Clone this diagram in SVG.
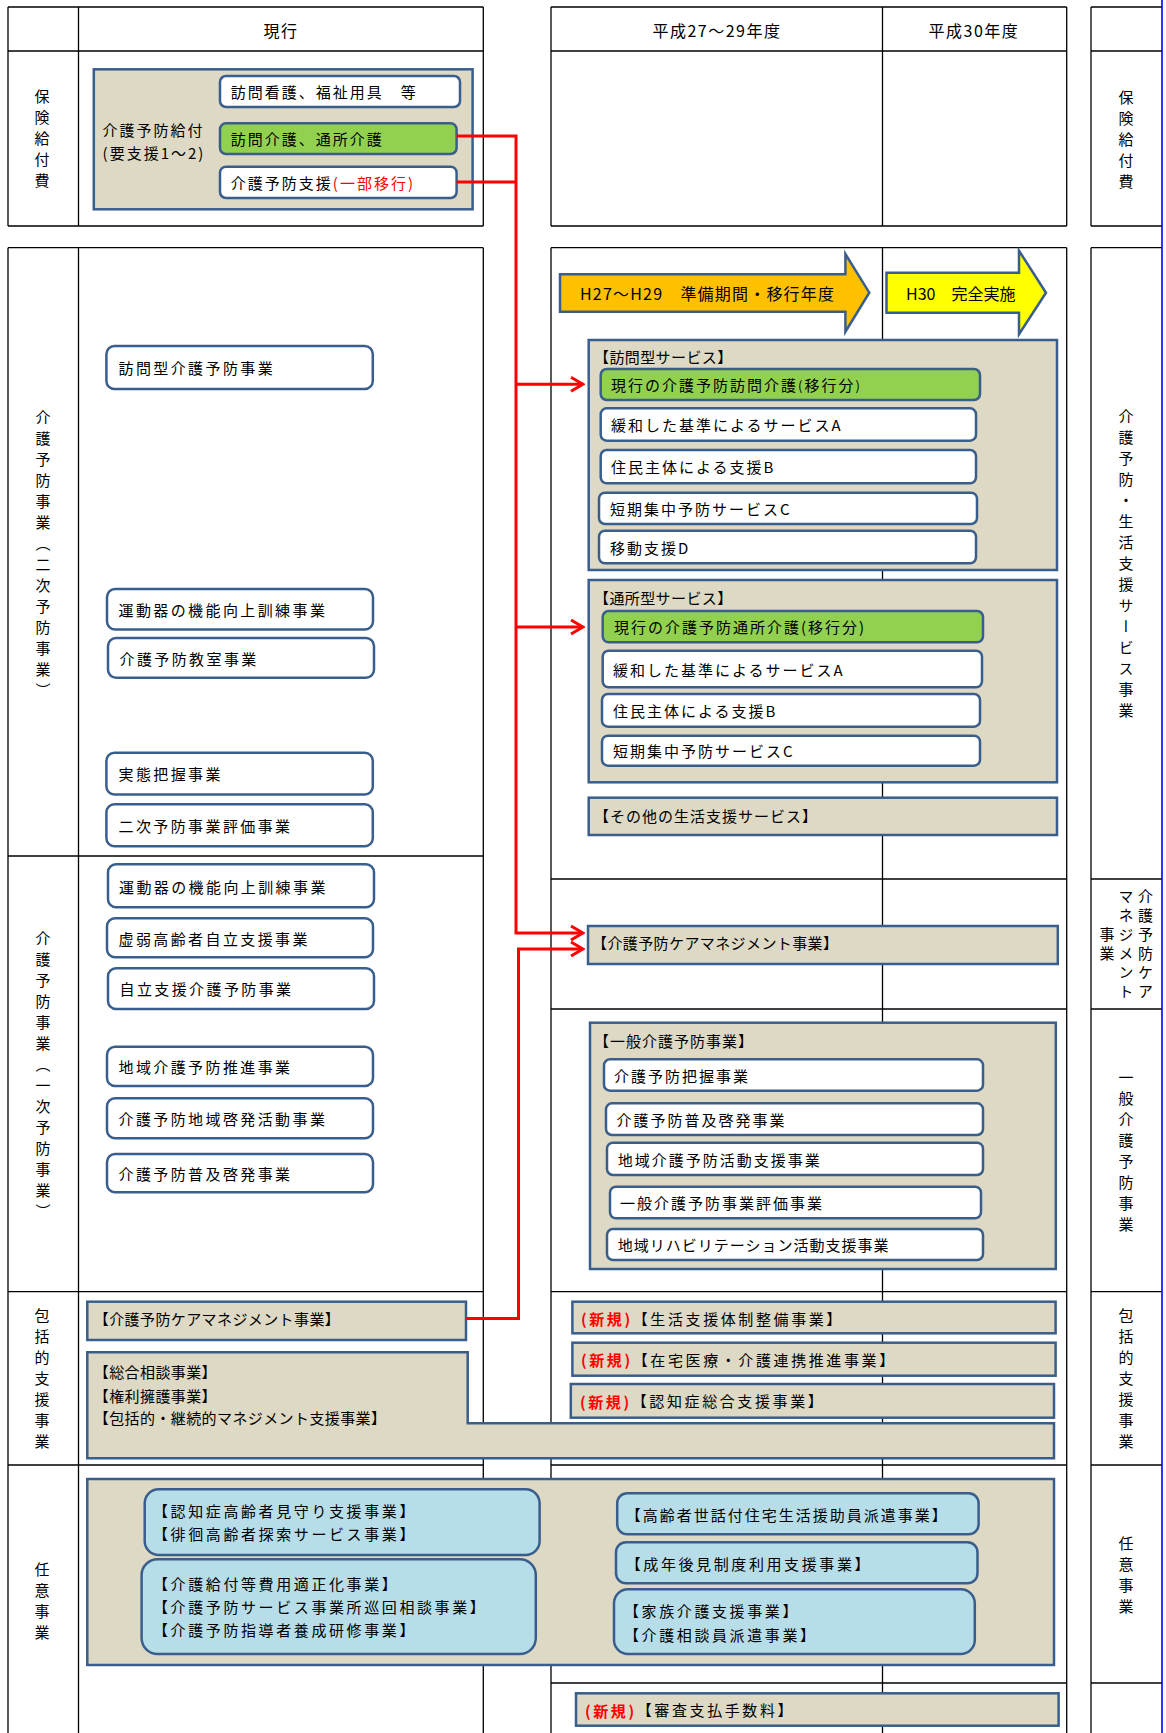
<svg xmlns="http://www.w3.org/2000/svg" width="1166" height="1733" viewBox="0 0 1166 1733">
<defs>
<style>
text{font-family:"Noto Sans CJK JP","Noto Sans CJK SC",sans-serif;font-size:15px;fill:#000;dominant-baseline:central}
.hd{font-size:16px;letter-spacing:1.5px;text-anchor:middle}
.v{writing-mode:vertical-rl;text-anchor:middle;letter-spacing:6px}
.vk{writing-mode:vertical-rl;text-anchor:middle;letter-spacing:4px}
.grid line{stroke:#000;stroke-width:1.3}
.c{fill:#ddd9c4;stroke:#3a5e8c;stroke-width:2.5}
.w{fill:#fff;stroke:#3a5e8c;stroke-width:2.5}
.g{fill:#92d050;stroke:#3a5e8c;stroke-width:2.5}
.b{fill:#b7dde8;stroke:#3a5e8c;stroke-width:2.5}
.ao{fill:#ffc000;stroke:#3a5e8c;stroke-width:2.5}
.ay{fill:#ffff00;stroke:#3a5e8c;stroke-width:2.5}
.l0{letter-spacing:0.4px}
.l1{letter-spacing:1px}
.l2{letter-spacing:2px}
.l24{letter-spacing:2.4px}
.l25{letter-spacing:2.6px}
.red{fill:#f00}
.nb{fill:#f00;font-weight:bold}
.conn path{fill:none;stroke:#f00;stroke-width:3}
</style>
<marker id="ah" markerUnits="userSpaceOnUse" markerWidth="16" markerHeight="18" viewBox="0 0 16 18" refX="14" refY="9" orient="auto">
<path d="M2,2 L14,9 L2,16" fill="none" stroke="#f00" stroke-width="3"/>
</marker>
</defs>
<rect x="0" y="0" width="1166" height="1733" fill="#fff"/>

<g class="grid">
<!-- left table -->
<line x1="8" y1="7" x2="483.3" y2="7"/>
<line x1="8" y1="51" x2="483.3" y2="51"/>
<line x1="8" y1="226" x2="483.3" y2="226"/>
<line x1="8" y1="7" x2="8" y2="226"/>
<line x1="78.5" y1="7" x2="78.5" y2="226"/>
<line x1="483.3" y1="7" x2="483.3" y2="226"/>
<line x1="8" y1="247.7" x2="483.3" y2="247.7"/>
<line x1="8" y1="247.7" x2="8" y2="1733"/>
<line x1="78.5" y1="247.7" x2="78.5" y2="1733"/>
<line x1="483.3" y1="247.7" x2="483.3" y2="1733"/>
<line x1="8" y1="856" x2="483.3" y2="856"/>
<line x1="8" y1="1291.7" x2="483.3" y2="1291.7"/>
<line x1="8" y1="1465" x2="483.3" y2="1465"/>
<!-- middle table -->
<line x1="551" y1="7" x2="1066.7" y2="7"/>
<line x1="551" y1="51" x2="1066.7" y2="51"/>
<line x1="551" y1="226" x2="1066.7" y2="226"/>
<line x1="551" y1="7" x2="551" y2="226"/>
<line x1="882.5" y1="7" x2="882.5" y2="226"/>
<line x1="1066.7" y1="7" x2="1066.7" y2="226"/>
<line x1="551" y1="247.7" x2="1066.7" y2="247.7"/>
<line x1="551" y1="247.7" x2="551" y2="1733"/>
<line x1="882.5" y1="247.7" x2="882.5" y2="1733"/>
<line x1="1066.7" y1="247.7" x2="1066.7" y2="1733"/>
<line x1="551" y1="879" x2="1066.7" y2="879"/>
<line x1="551" y1="1009" x2="1066.7" y2="1009"/>
<line x1="551" y1="1291.7" x2="1066.7" y2="1291.7"/>
<line x1="551" y1="1465" x2="1066.7" y2="1465"/>
<line x1="551" y1="1683" x2="1066.7" y2="1683"/>
<!-- right table -->
<line x1="1091" y1="7" x2="1162" y2="7"/>
<line x1="1091" y1="51" x2="1162" y2="51"/>
<line x1="1091" y1="226" x2="1162" y2="226"/>
<line x1="1091" y1="7" x2="1091" y2="226"/>
<line x1="1091" y1="247.7" x2="1162" y2="247.7"/>
<line x1="1091" y1="247.7" x2="1091" y2="1733"/>
<line x1="1091" y1="879" x2="1162" y2="879"/>
<line x1="1091" y1="1009" x2="1162" y2="1009"/>
<line x1="1091" y1="1291.7" x2="1162" y2="1291.7"/>
<line x1="1091" y1="1465" x2="1162" y2="1465"/>
<line x1="1091" y1="1683" x2="1162" y2="1683"/>
</g>
<line x1="1162" y1="0" x2="1162" y2="1733" stroke="#0000ff" stroke-width="1.6"/>

<!-- headers and row labels -->
<g id="headers">
<text class="hd" x="281" y="30">現行</text>
<text class="hd" x="717" y="30">平成27〜29年度</text>
<text class="hd" x="974" y="30">平成30年度</text>
</g>
<g id="row-labels">
<text class="v" x="42" y="141.5">保険給付費</text>
<text class="v" x="43" y="557">介護予防事業（二次予防事業）</text>
<text class="v" x="43" y="1078">介護予防事業（一次予防事業）</text>
<text class="v" x="42" y="1381">包括的支援事業</text>
<text class="v" x="42" y="1604">任意事業</text>
<text class="v" x="1126" y="142">保険給付費</text>
<text class="v" x="1126" y="566">介護予防・生活支援サービス事業</text>
<text class="vk" x="1145.5" y="946">介護予防ケア</text>
<text class="vk" x="1126" y="946">マネジメント</text>
<text class="vk" x="1107" y="946">事業</text>
<text class="v" x="1126" y="1154">一般介護予防事業</text>
<text class="v" x="1126" y="1381">包括的支援事業</text>
<text class="v" x="1126" y="1578">任意事業</text>
</g>

<!-- top-left: 介護予防給付 -->
<g id="n-kyufu">
<rect class="c" x="93.8" y="69.3" width="378.8" height="140"/>
<text x="102.6" y="129.7" class="l2">介護予防給付</text>
<text x="102.6" y="152.5" class="l2">(要支援1〜2)</text>
</g>
<g id="n-houmon-kango">
<rect class="w" x="220" y="76" width="240" height="31" rx="6"/>
<text x="230.8" y="91.5" class="l2">訪問看護、福祉用具　等</text>
</g>
<g id="n-houmon-tsusho">
<rect class="g" x="220" y="123.3" width="236.6" height="30.7" rx="6"/>
<text x="230.8" y="138.7" class="l2">訪問介護、通所介護</text>
</g>
<g id="n-yobo-shien">
<rect class="w" x="220" y="166.7" width="236.6" height="31.3" rx="6"/>
<text x="230.8" y="182.3" class="l2">介護予防支援<tspan class="red">(一部移行)</tspan></text>
</g>

<!-- left: 二次予防 -->
<g id="n-l-houmongata"><rect class="w" x="106.4" y="346" width="266.4" height="43" rx="8"/><text x="118.5" y="367.5" class="l24">訪問型介護予防事業</text></g>
<g id="n-l-undoki2"><rect class="w" x="107" y="589" width="266" height="40.5" rx="8"/><text x="118.5" y="609" class="l24">運動器の機能向上訓練事業</text></g>
<g id="n-l-kyoshitsu"><rect class="w" x="108" y="638" width="266" height="39.7" rx="8"/><text x="119.5" y="658" class="l24">介護予防教室事業</text></g>
<g id="n-l-jittai"><rect class="w" x="106.4" y="752.8" width="266.4" height="41.6" rx="8"/><text x="118.5" y="773.6" class="l24">実態把握事業</text></g>
<g id="n-l-niji-hyoka"><rect class="w" x="106.4" y="804.3" width="266.4" height="41.9" rx="8"/><text x="118.5" y="825" class="l24">二次予防事業評価事業</text></g>
<!-- left: 一次予防 -->
<g id="n-l-undoki1"><rect class="w" x="108" y="864.3" width="266" height="43" rx="8"/><text x="119" y="886" class="l24">運動器の機能向上訓練事業</text></g>
<g id="n-l-kyojaku"><rect class="w" x="107" y="918.3" width="266" height="39" rx="8"/><text x="118.5" y="938" class="l24">虚弱高齢者自立支援事業</text></g>
<g id="n-l-jiritsu"><rect class="w" x="108" y="968.3" width="266" height="40.7" rx="8"/><text x="119.5" y="988.6" class="l24">自立支援介護予防事業</text></g>
<g id="n-l-chiiki-suishin"><rect class="w" x="107" y="1046.7" width="266" height="39.3" rx="8"/><text x="118.5" y="1066" class="l24">地域介護予防推進事業</text></g>
<g id="n-l-chiiki-keihatsu"><rect class="w" x="107" y="1098.3" width="266" height="40" rx="8"/><text x="118.5" y="1118" class="l24">介護予防地域啓発活動事業</text></g>
<g id="n-l-fukyu"><rect class="w" x="107" y="1154" width="266" height="38.3" rx="8"/><text x="118.5" y="1173" class="l24">介護予防普及啓発事業</text></g>

<!-- arrows -->
<g id="n-arrow-h27">
<polygon class="ao" points="560,274.3 845.4,274.3 845.4,254 869.3,292.7 845.4,331.7 845.4,311.7 560,311.7"/>
<text x="580" y="292.7" style="font-size:16px;letter-spacing:1.2px">H27〜H29　準備期間・移行年度</text>
</g>
<g id="n-arrow-h30">
<polygon class="ay" points="886.5,272.7 1019,272.7 1019,250.7 1046,292.7 1019,334.3 1019,312.7 886.5,312.7"/>
<text x="906" y="292.7" style="font-size:16px">H30　完全実施</text>
</g>

<!-- 訪問型サービス -->
<g id="n-houmongata">
<rect class="c" x="588.7" y="340" width="468.3" height="230"/>
<text x="594" y="356" class="l0">【訪問型サービス】</text>
</g>
<g id="n-h-genko"><rect class="g" x="600.7" y="369" width="379.3" height="31" rx="6"/><text x="611" y="384.5" class="l2">現行の介護予防訪問介護<tspan style="font-size:13px">(</tspan>移行分<tspan style="font-size:13px">)</tspan></text></g>
<g id="n-h-a"><rect class="w" x="600.7" y="408.3" width="375.3" height="32.4" rx="6"/><text x="611" y="424.5" class="l2">緩和した基準によるサービスA</text></g>
<g id="n-h-b"><rect class="w" x="600.7" y="450" width="375.3" height="33.3" rx="6"/><text x="611" y="466.7" class="l2">住民主体による支援B</text></g>
<g id="n-h-c"><rect class="w" x="599" y="492.7" width="378" height="31.3" rx="6"/><text x="610" y="508.4" class="l2">短期集中予防サービスC</text></g>
<g id="n-h-d"><rect class="w" x="599" y="530.7" width="377" height="32.6" rx="6"/><text x="610" y="547" class="l2">移動支援D</text></g>

<!-- 通所型サービス -->
<g id="n-tsushogata">
<rect class="c" x="588.7" y="580" width="468.3" height="202.3"/>
<text x="594" y="597.7" class="l0">【通所型サービス】</text>
</g>
<g id="n-t-genko"><rect class="g" x="602.7" y="611" width="380.3" height="31.3" rx="6"/><text x="614" y="626.7" class="l2">現行の介護予防通所介護(移行分)</text></g>
<g id="n-t-a"><rect class="w" x="602.7" y="650.7" width="379.3" height="36.6" rx="6"/><text x="613" y="669" class="l2">緩和した基準によるサービスA</text></g>
<g id="n-t-b"><rect class="w" x="602" y="694" width="378" height="32.7" rx="6"/><text x="613" y="710.3" class="l2">住民主体による支援B</text></g>
<g id="n-t-c"><rect class="w" x="602" y="735.7" width="378" height="30" rx="6"/><text x="613" y="750.7" class="l2">短期集中予防サービスC</text></g>

<g id="n-sonota"><rect class="c" x="588.7" y="797.7" width="468.3" height="37.3"/><text x="594" y="815" class="l1">【その他の生活支援サービス】</text></g>

<g id="n-r-caremanage"><rect class="c" x="588" y="926" width="469.8" height="38"/><text x="592" y="942" class="l0">【介護予防ケアマネジメント事業】</text></g>

<!-- 一般介護予防事業 -->
<g id="n-ippan">
<rect class="c" x="590" y="1022.7" width="465.8" height="246.3"/>
<text x="594" y="1040" class="l1">【一般介護予防事業】</text>
</g>
<g id="n-i-haaku"><rect class="w" x="604" y="1059.3" width="379" height="31.4" rx="6"/><text x="614" y="1075" class="l2">介護予防把握事業</text></g>
<g id="n-i-fukyu"><rect class="w" x="606" y="1103.3" width="377" height="31.7" rx="6"/><text x="616.6" y="1119" class="l2">介護予防普及啓発事業</text></g>
<g id="n-i-chiiki"><rect class="w" x="607" y="1142.7" width="376" height="32.3" rx="6"/><text x="617.8" y="1159" class="l2">地域介護予防活動支援事業</text></g>
<g id="n-i-hyoka"><rect class="w" x="610" y="1186.7" width="371" height="31.6" rx="6"/><text x="620" y="1202.5" class="l2">一般介護予防事業評価事業</text></g>
<g id="n-i-reha"><rect class="w" x="607" y="1229" width="376" height="31" rx="6"/><text x="617.8" y="1244.5" class="l1">地域リハビリテーション活動支援事業</text></g>

<!-- 包括的支援事業 -->
<g id="n-l-caremanage"><rect class="c" x="87.3" y="1301.7" width="378.7" height="38.3"/><text x="93.8" y="1318" class="l0">【介護予防ケアマネジメント事業】</text></g>
<g id="n-sogo">
<path class="c" d="M87.3,1352.3 H467.7 V1423.3 H1054 V1458.3 H87.3 Z"/>
<text x="93.8" y="1371.7" class="l0">【総合相談事業】</text>
<text x="93.8" y="1395" class="l0">【権利擁護事業】</text>
<text x="93.8" y="1417.7" class="l0">【包括的・継続的マネジメント支援事業】</text>
</g>
<g id="n-new-seikatsu"><rect class="c" x="572.4" y="1301.7" width="483.2" height="31.6"/><text x="581" y="1318" class="l25"><tspan class="nb">(新規)</tspan>【生活支援体制整備事業】</text></g>
<g id="n-new-zaitaku"><rect class="c" x="572.4" y="1342.7" width="483.2" height="33"/><text x="581" y="1359" class="l25"><tspan class="nb">(新規)</tspan>【在宅医療・介護連携推進事業】</text></g>
<g id="n-new-ninchi"><rect class="c" x="570.8" y="1384" width="483.2" height="33.7"/><text x="580" y="1400.5" class="l25"><tspan class="nb">(新規)</tspan>【認知症総合支援事業】</text></g>

<!-- 任意事業 -->
<g id="n-nini"><rect class="c" x="87.3" y="1479" width="966.7" height="186"/></g>
<g id="n-nini-1"><rect class="b" x="144.7" y="1489.3" width="394.9" height="65.7" rx="14"/>
<text x="153" y="1510" class="l25">【認知症高齢者見守り支援事業】</text>
<text x="153" y="1533.3" class="l25">【徘徊高齢者探索サービス事業】</text></g>
<g id="n-nini-2"><rect class="b" x="141.6" y="1559.3" width="394.2" height="94.7" rx="16"/>
<text x="153" y="1583.3" class="l25">【介護給付等費用適正化事業】</text>
<text x="153" y="1606.7" class="l25">【介護予防サービス事業所巡回相談事業】</text>
<text x="153" y="1629.3" class="l25">【介護予防指導者養成研修事業】</text></g>
<g id="n-nini-3"><rect class="b" x="617.2" y="1493.3" width="361.4" height="41" rx="10"/><text x="625.7" y="1514" class="l2">【高齢者世話付住宅生活援助員派遣事業】</text></g>
<g id="n-nini-4"><rect class="b" x="616" y="1542.3" width="361.5" height="41" rx="10"/><text x="625.7" y="1563" class="l25">【成年後見制度利用支援事業】</text></g>
<g id="n-nini-5"><rect class="b" x="614" y="1589.3" width="360.8" height="64.7" rx="14"/>
<text x="624" y="1610.7" class="l25">【家族介護支援事業】</text>
<text x="624" y="1634" class="l25">【介護相談員派遣事業】</text></g>

<g id="n-new-shinsa"><rect class="c" x="576" y="1693.3" width="482.6" height="32.4"/><text x="585" y="1709.5" class="l25"><tspan class="nb">(新規)</tspan>【審査支払手数料】</text></g>

<!-- connectors -->
<g class="conn" id="connectors">
<path d="M456.6,136 H516 V933 H583" marker-end="url(#ah)"/>
<path d="M456.6,182 H516"/>
<path d="M516,384.3 H583" marker-end="url(#ah)"/>
<path d="M516,627 H583" marker-end="url(#ah)"/>
<path d="M466,1318.5 H518.5 V949 H583" marker-end="url(#ah)"/>
</g>
</svg>
